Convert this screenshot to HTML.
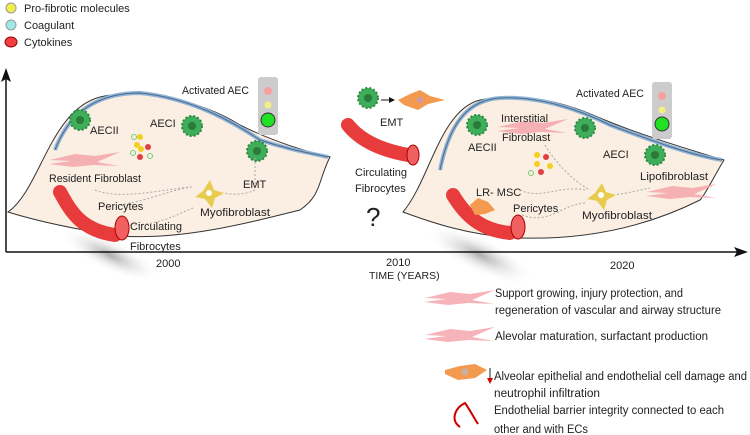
<!DOCTYPE html>
<html><head><meta charset="utf-8"><style>
html,body{margin:0;padding:0;background:#fff;}
svg{display:block;}
text{font-family:"Liberation Sans",sans-serif;fill:#222;}
</style></head><body>
<svg width="750" height="435" viewBox="0 0 750 435" xmlns="http://www.w3.org/2000/svg">
<defs>
<radialGradient id="sh" cx="0.5" cy="0.5" r="0.5"><stop offset="0" stop-color="#888" stop-opacity="0.7"/><stop offset="1" stop-color="#fff" stop-opacity="0"/></radialGradient>
<g id="aec"><circle r="10" fill="#3fae5a" stroke="#2b8a44" stroke-width="2" stroke-dasharray="2 2"/><circle r="4" fill="#2a7a3a"/></g>
<g id="fib"><path d="M-35,0 L-10,-6 L10,-4 L35,-8 L12,2 L34,6 L8,5 L-12,7 L-36,4 L-14,1 Z" fill="#f4a0a8" opacity="0.8"/></g>
</defs>
<circle cx="11" cy="8" r="5" fill="#f2ee4a" stroke="#999"/><text x="24" y="12" font-size="11">Pro-fibrotic molecules</text>
<circle cx="11" cy="25" r="5" fill="#9fe8e8" stroke="#999"/><text x="24" y="29" font-size="11">Coagulant</text>
<ellipse cx="11" cy="42" rx="6" ry="5" fill="#f04040" stroke="#900"/><text x="24" y="46" font-size="11">Cytokines</text>
<ellipse cx="110" cy="255" rx="55" ry="16" fill="url(#sh)" transform="rotate(25 110 255)"/>
<ellipse cx="480" cy="255" rx="60" ry="18" fill="url(#sh)" transform="rotate(25 480 255)"/>
<line x1="6" y1="252" x2="742" y2="252" stroke="#111" stroke-width="1.5"/>
<path d="M748,252 L734,247 L737,252 L734,257 Z" fill="#111"/>
<line x1="6" y1="252" x2="6" y2="76" stroke="#111" stroke-width="1.5"/>
<path d="M6,68 L1,82 L6,79 L11,82 Z" fill="#111"/>
<path d="M8,212 C40,190 50,110 100,97 C140,88 200,100 240,125 C270,140 300,150 330,157 C318,180 322,195 300,210 C240,225 180,240 120,236 C80,230 40,222 8,212 Z" fill="#fbeee2" stroke="#333" stroke-width="1"/>
<path d="M55,150 C70,110 100,93 140,93 C190,98 230,120 260,140 C290,150 310,153 328,157" fill="none" stroke="#8fb4d6" stroke-width="4"/>
<path d="M55,150 C70,110 100,93 140,93 C190,98 230,120 260,140 C290,150 310,153 328,157" fill="none" stroke="#4a6c8e" stroke-width="1"/>
<use href="#fib" x="85" y="160"/>
<use href="#aec" x="80" y="120"/><use href="#aec" x="192" y="126"/><use href="#aec" x="257" y="151"/>
<g><circle cx="140" cy="137" r="3" fill="#f2d020"/><circle cx="137" cy="145" r="3" fill="#f2d020"/><circle cx="141" cy="149" r="3" fill="#f2d020"/><circle cx="148" cy="147" r="3" fill="#e04040"/><circle cx="140" cy="157" r="3" fill="#e04040"/><circle cx="134" cy="137" r="2.5" fill="none" stroke="#7c7"/><circle cx="150" cy="156" r="2.5" fill="none" stroke="#7c7"/><circle cx="133" cy="153" r="2.5" fill="none" stroke="#7c7"/></g>
<path d="M60,192 C70,210 80,230 115,235" fill="none" stroke="#e83c3c" stroke-width="14" stroke-linecap="round"/>
<ellipse cx="122" cy="228" rx="7" ry="12" fill="#f06060" stroke="#a00"/>
<path d="M95,190 C120,200 160,190 190,187 M120,205 C150,200 170,190 192,187 M130,225 C160,225 175,215 193,208 M255,158 L255,190 C245,195 230,195 225,193" fill="none" stroke="#aaa" stroke-dasharray="2 2"/>
<path d="M210,180 L214,190 L224,193 L215,198 L212,208 L205,199 L195,197 L203,191 Z" fill="#e8cc50"/><circle cx="209" cy="193" r="3" fill="#fff"/>
<rect x="258" y="77" width="20" height="58" rx="3" fill="#ccc"/>
<circle cx="268" cy="91" r="4" fill="#f7a0a0"/><circle cx="268" cy="105" r="3.5" fill="#f2f080"/><circle cx="268" cy="120" r="7" fill="#22e022" stroke="#333"/>
<g font-size="11">
<text x="182" y="94" textLength="67" lengthAdjust="spacingAndGlyphs">Activated AEC</text>
<text x="90" y="134">AECII</text>
<text x="150" y="127">AECI</text>
<text x="49" y="182" textLength="92" lengthAdjust="spacingAndGlyphs">Resident Fibroblast</text>
<text x="243" y="188">EMT</text>
<text x="98" y="210">Pericytes</text>
<text x="200" y="216" textLength="70" lengthAdjust="spacingAndGlyphs">Myofibroblast</text>
<text x="130" y="230">Circulating</text>
<text x="130" y="250">Fibrocytes</text>
<text x="156" y="267">2000</text>
</g>
<use href="#aec" x="368" y="98"/>
<path d="M381,100 L392,100" stroke="#111"/><path d="M395,100 L389,97 L389,103Z" fill="#111"/>
<path d="M398,100 L410,94 L420,90 L430,96 L445,100 L428,104 L418,110 L404,105 Z" fill="#f39a50"/><circle cx="420" cy="100" r="3" fill="#c9a"/>
<path d="M348,125 C360,140 380,150 408,155" fill="none" stroke="#e83c3c" stroke-width="14" stroke-linecap="round"/>
<ellipse cx="413" cy="155" rx="6" ry="10" fill="#f06060" stroke="#a00"/>
<g font-size="11"><text x="380" y="126">EMT</text><text x="355" y="176">Circulating</text><text x="355" y="192">Fibrocytes</text>
<text x="366" y="226" font-size="26">?</text>
<text x="386" y="266">2010</text><text x="369" y="279" font-size="10.5">TIME (YEARS)</text></g>
<path d="M403,212 C430,180 440,110 480,100 C520,92 560,100 600,118 C640,135 690,150 724,160 C712,180 705,195 700,200 C650,225 590,240 520,238 C470,236 430,222 403,212 Z" fill="#fbeee2" stroke="#333" stroke-width="1"/>
<path d="M440,170 C450,120 470,100 500,98 C540,96 580,110 610,125 C650,140 690,155 722,160" fill="none" stroke="#8fb4d6" stroke-width="4"/>
<path d="M440,170 C450,120 470,100 500,98 C540,96 580,110 610,125 C650,140 690,155 722,160" fill="none" stroke="#4a6c8e" stroke-width="1"/>
<use href="#fib" x="533" y="127"/><use href="#fib" x="682" y="192"/>
<use href="#aec" x="477" y="125"/><use href="#aec" x="585" y="128"/><use href="#aec" x="655" y="155"/>
<circle cx="537" cy="155" r="3" fill="#f2d020"/><circle cx="546" cy="157" r="3" fill="#e04040"/><circle cx="537" cy="164" r="3" fill="#f2d020"/><circle cx="550" cy="166" r="3" fill="#f2d020"/><circle cx="541" cy="172" r="3" fill="#e04040"/><circle cx="531" cy="173" r="2.5" fill="none" stroke="#7c7"/>
<path d="M453,195 C465,215 480,230 510,233" fill="none" stroke="#e83c3c" stroke-width="14" stroke-linecap="round"/>
<ellipse cx="518" cy="227" rx="7" ry="12" fill="#f06060" stroke="#a00"/>
<path d="M470,205 L478,198 L488,202 L495,210 L485,214 L475,215 Z" fill="#f39a50"/>
<path d="M545,145 C560,170 580,185 590,190 M520,190 C540,200 560,185 585,190 M522,215 C550,225 560,205 585,203 M605,196 C620,195 640,190 650,188" fill="none" stroke="#aaa" stroke-dasharray="2 2"/>
<path d="M602,183 L606,192 L616,195 L607,200 L604,210 L597,201 L587,199 L595,193 Z" fill="#e8cc50"/><circle cx="601" cy="195" r="3" fill="#fff"/>
<rect x="652" y="82" width="20" height="57" rx="3" fill="#ccc"/>
<circle cx="662" cy="96" r="4" fill="#f7a0a0"/><circle cx="662" cy="110" r="3.5" fill="#f2f080"/><circle cx="662" cy="124" r="7" fill="#22e022" stroke="#333"/>
<g font-size="11">
<text x="576" y="97" textLength="68" lengthAdjust="spacingAndGlyphs">Activated AEC</text>
<text x="501" y="122">Interstitial</text><text x="502" y="141">Fibroblast</text>
<text x="468" y="151">AECII</text><text x="603" y="158">AECI</text>
<text x="640" y="180" textLength="68" lengthAdjust="spacingAndGlyphs">Lipofibroblast</text>
<text x="476" y="196">LR- MSC</text><text x="513" y="212">Pericytes</text>
<text x="582" y="219" textLength="70" lengthAdjust="spacingAndGlyphs">Myofibroblast</text>
<text x="610" y="269">2020</text>
</g>
<use href="#fib" x="460" y="298"/><use href="#fib" x="460" y="335"/>
<path d="M445,370 L460,366 L475,364 L487,370 L475,378 L458,380 L445,374 Z" fill="#f39a50"/><circle cx="465" cy="372" r="3.5" fill="#c9b0a0"/>
<line x1="490" y1="368" x2="490" y2="381" stroke="#222"/><path d="M490,384 L487,378 L493,378Z" fill="#c00"/>
<path d="M460,427 C450,420 455,408 465,403 C470,410 474,418 478,424" fill="none" stroke="#c00" stroke-width="2"/>
<g font-size="11.5">
<text x="495" y="297" textLength="188" lengthAdjust="spacingAndGlyphs">Support growing, injury protection, and</text>
<text x="495" y="314" textLength="226" lengthAdjust="spacingAndGlyphs">regeneration of vascular and airway structure</text>
<text x="495" y="340" textLength="213" lengthAdjust="spacingAndGlyphs">Alevolar maturation, surfactant production</text>
<text x="494" y="380" textLength="253" lengthAdjust="spacingAndGlyphs">Alveolar epithelial and endothelial cell damage and</text>
<text x="494" y="397" textLength="106" lengthAdjust="spacingAndGlyphs">neutrophil infiltration</text>
<text x="494" y="414" textLength="230" lengthAdjust="spacingAndGlyphs">Endothelial barrier integrity connected to each</text>
<text x="494" y="433" textLength="94" lengthAdjust="spacingAndGlyphs">other and with ECs</text>
</g>
</svg>
</body></html>
